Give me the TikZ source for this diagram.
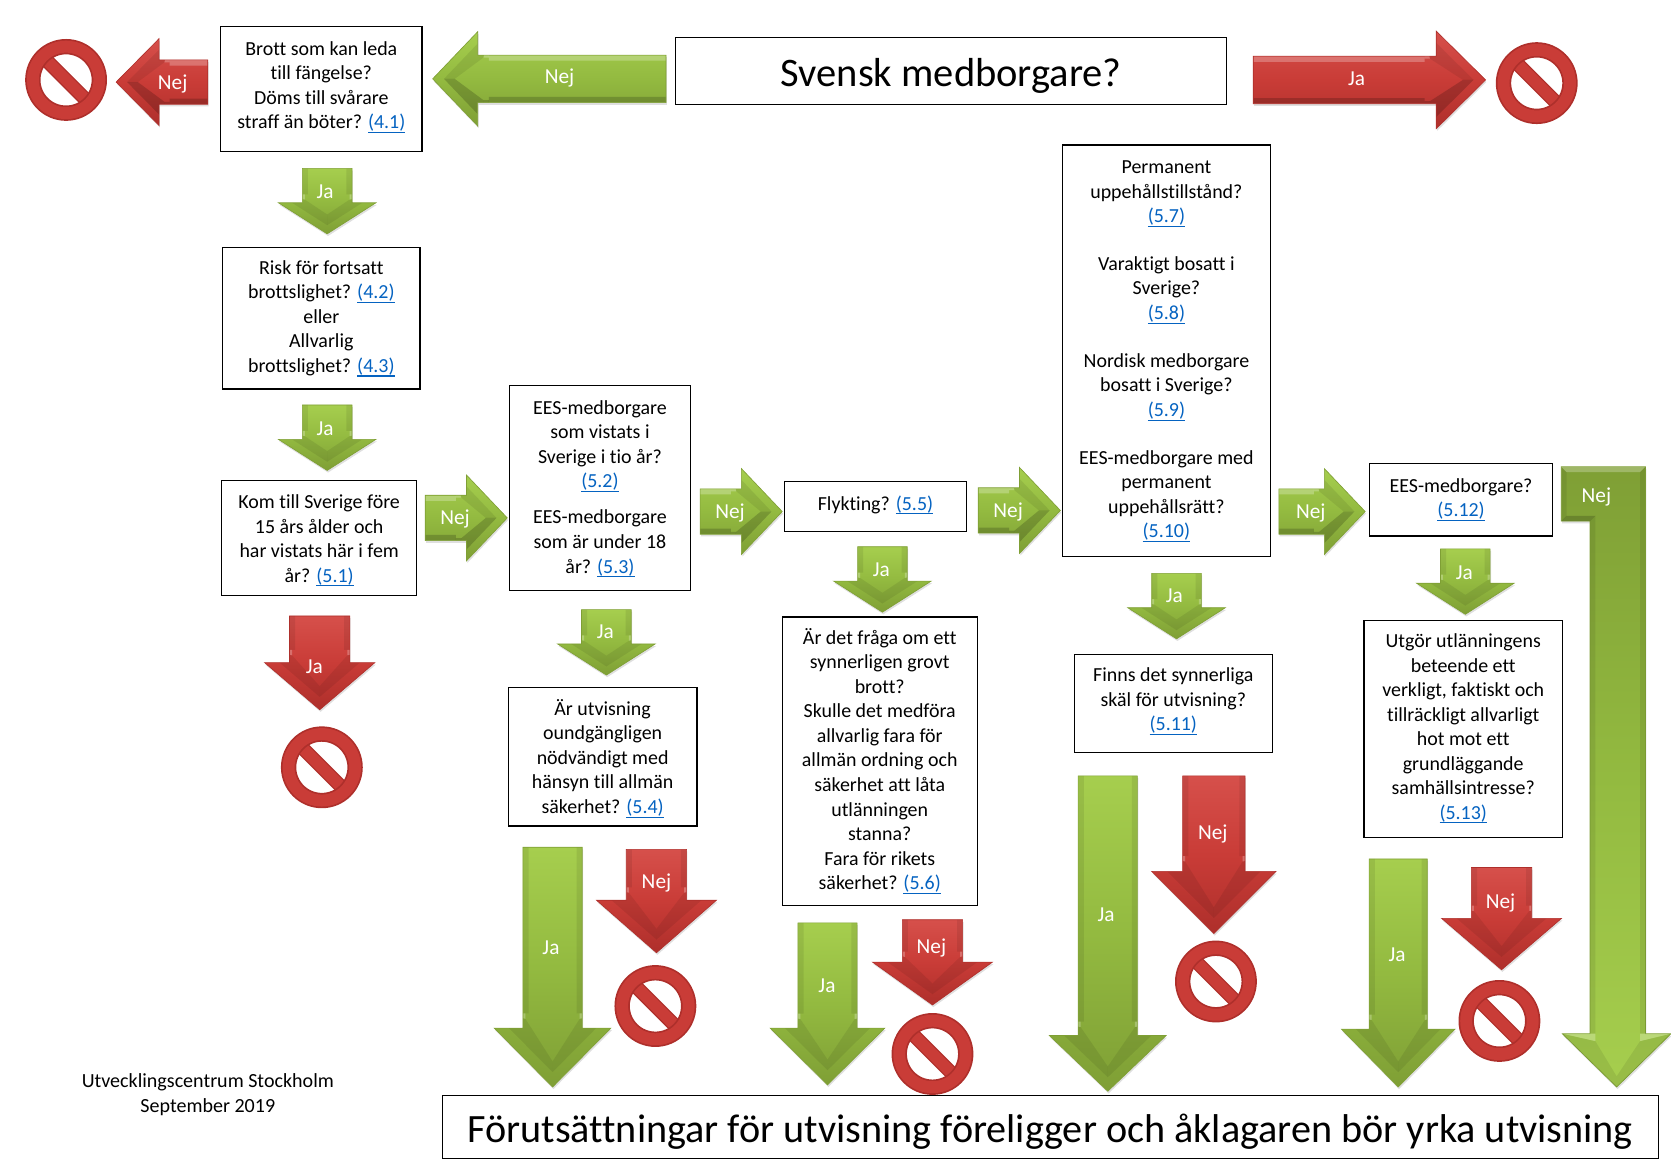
\documentclass[tikz,border=0pt]{standalone}
\usepackage{fontspec}
\setmainfont{Carlito}[Ligatures=NoCommon]
\usetikzlibrary{shapes.arrows, shadows}
\definecolor{greenlite}{HTML}{A6CE4E}
\definecolor{greenmid}{HTML}{93BA40}
\definecolor{greendark}{HTML}{7F9F35}
\definecolor{redlite}{HTML}{D6504B}
\definecolor{redmid}{HTML}{C93C37}
\definecolor{reddark}{HTML}{AE2F2B}
\definecolor{linkblue}{HTML}{0563C1}
% underline that sits close to the text
\newcommand{\lawlink}[1]{\textcolor{linkblue}{\setbox0\hbox{#1}\rlap{\rule[-2pt]{\wd0}{.5pt}}\rule[-3.6pt]{0pt}{3.6pt}\box0}}
\newcommand{\pushdown}[1]{\rule{0pt}{#1pt}}
\tikzstyle{question} = [rectangle, draw=black, line width=.6pt, align=center, fill=white, font=\fontsize{9.35}{11.5}\selectfont, inner sep=0pt, outer sep=0pt]
\tikzstyle{arrowtext} = [text=white, inner sep=0pt, yshift=-.5pt, font=\fontsize{10}{11.5}\selectfont]
\tikzstyle{lit} = [fill=white, opacity=.25]
\tikzstyle{dim} = [fill=black, opacity=.08]
\tikzstyle{deep} = [fill=black, opacity=.18]
\tikzstyle{greenbody} = [top color=greenlite, bottom color=greendark, middle color=greenmid, draw=greendark, line width=.3pt, drop shadow={shadow xshift=.4pt, shadow yshift=-1pt, opacity=.25}]
\tikzstyle{redbody} = [top color=redlite, bottom color=reddark, middle color=redmid, draw=reddark, line width=.3pt, drop shadow={shadow xshift=.4pt, shadow yshift=-1pt, opacity=.25}]
\tikzstyle{nosign} = [circle, minimum size=31.2pt, inner sep=0pt, outer sep=0pt, draw=reddark, line width=.8pt, double=redmid, double distance=5.6pt, path picture={\draw [draw=reddark, line width=.6pt, double=redmid, double distance=5.4pt] (path picture bounding box.north west) -- (path picture bounding box.south east);}]
% the seven bevel faces: tail, two sides, two wings, two head edges
\newcommand{\facesetup}[7]{
	\fill [arrowframe, #1] (-\aEnd,-\aShaft) -- (-\aEnd,\aShaft) -- (-\aEnd+5,\aShaft-5) -- (-\aEnd+5,-\aShaft+5) -- cycle;
	\fill [arrowframe, #2] (-\aEnd,-\aShaft) -- (\aBase,-\aShaft) -- (\aBase,-\aShaft+5) -- (-\aEnd+5,-\aShaft+5) -- cycle;
	\fill [arrowframe, #3] (-\aEnd,\aShaft) -- (\aBase,\aShaft) -- (\aBase,\aShaft-5) -- (-\aEnd+5,\aShaft-5) -- cycle;
	\fill [arrowframe, #4] (\aBase,-\aHead) -- (\aBase,-\aShaft+2) -- (\aBase+5,-\aShaft+2) -- cycle;
	\fill [arrowframe, #5] (\aBase,\aHead) -- (\aBase,\aShaft-2) -- (\aBase+5,\aShaft-2) -- cycle;
	\fill [arrowframe, #6] (\aBase,-\aHead) -- (\aEnd,0) -- (\aEnd-10,0) -- (\aBase+5,-\aShaft+2) -- cycle;
	\fill [arrowframe, #7] (\aBase,\aHead) -- (\aEnd,0) -- (\aEnd-10,0) -- (\aBase+5,\aShaft-2) -- cycle;
}
% inside the arrow the origin is its middle, so only the axes are set
\newcommand{\arrowfaces}[5]{
	\pgfmathsetmacro{\aEnd}{#2/2}
	\pgfmathsetmacro{\aBase}{#2/2-#5}
	\pgfmathsetmacro{\aShaft}{#3/2}
	\pgfmathsetmacro{\aHead}{#4/2}
	\ifnum#1=270 \tikzset{arrowframe/.style={x={(0pt,-.5pt)}, y={(-.5pt,0pt)}}} \facesetup{lit}{dim}{dim}{lit}{lit}{dim}{dim}\fi
	\ifnum#1=0 \tikzset{arrowframe/.style={x={(.5pt,0pt)}, y={(0pt,-.5pt)}}} \facesetup{dim}{lit}{deep}{lit}{deep}{dim}{deep}\fi
	\ifnum#1=180 \tikzset{arrowframe/.style={x={(-.5pt,0pt)}, y={(0pt,.5pt)}}} \facesetup{dim}{deep}{lit}{deep}{lit}{deep}{dim}\fi
}
\tikzset{
	blockarrow/.style n args={5}{single arrow, anchor=tail, outer sep=0pt, shape border rotate=#1, minimum height=#2*.5pt, inner sep=#3*.25pt, single arrow head extend=(#4-#3)*.25pt, single arrow tip angle={2*atan(#4/2/#5)}, path picture={\arrowfaces{#1}{#2}{#3}{#4}{#5}}},
	box/.style 2 args={question, minimum width=#1*.5pt, minimum height=#2*.5pt},
	shortja/.style={blockarrow={270}{60}{46}{91}{29}, greenbody},
	shortnej/.style={blockarrow={0}{77}{42}{80}{38}, greenbody}
}

\begin{document}
\begin{tikzpicture}[x=.5pt, y=-.5pt]
	\useasboundingbox (0,0) rectangle (1568,1100.7);

	% questions
	\node (start) [box={517}{63}, font=\fontsize{19}{22}\selectfont] at (892.5,66.5) {\pushdown{18}Svensk medborgare?};
	\node (q41) [box={189}{117}] at (301.5,83.5) {Brott som kan leda\\till fängelse?\\Döms till svårare\\straff än böter? \lawlink{(4.1)}};
	\node (q42) [box={185}{133}] at (301.5,298.5) {\pushdown{8.4}Risk för fortsatt\\brottslighet? \lawlink{(4.2)}\\eller\\Allvarlig\\brottslighet? \lawlink{(4.3)}};
	\node (q51) [box={183}{108}] at (299.5,505) {\pushdown{10.4}Kom till Sverige före\\15 års ålder och\\har vistats här i fem\\år? \lawlink{(5.1)}};
	\node (q52) [box={170}{192}] at (563,458) {\pushdown{8.8}EES-medborgare\\som vistats i\\Sverige i tio år?\\\lawlink{(5.2)}\\[5.5pt]EES-medborgare\\som är under 18\\år? \lawlink{(5.3)}};
	\node (q54) [box={177}{130}] at (565.5,710) {\pushdown{10.8}Är utvisning\\oundgängligen\\nödvändigt med\\hänsyn till allmän\\säkerhet? \lawlink{(5.4)}};
	\node (q55) [box={171}{47}] at (821.5,475.5) {Flykting? \lawlink{(5.5)}};
	\node (q56) [box={183}{271}] at (825.5,714.5) {\pushdown{8.8}Är det fråga om ett\\synnerligen grovt\\brott?\\Skulle det medföra\\allvarlig fara för\\allmän ordning och\\säkerhet att låta\\utlänningen\\stanna?\\Fara för rikets\\säkerhet? \lawlink{(5.6)}};
	\node (q57) [box={195}{386}] at (1094.5,329) {\pushdown{8.4}Permanent\\uppehållstillstånd?\\\lawlink{(5.7)}\\[11pt]Varaktigt bosatt i\\Sverige?\\\lawlink{(5.8)}\\[11pt]Nordisk medborgare\\bosatt i Sverige?\\\lawlink{(5.9)}\\[11pt]EES-medborgare med\\permanent\\uppehållsrätt?\\\lawlink{(5.10)}};
	\node (q511) [box={186}{92}] at (1101,660) {Finns det synnerliga\\skäl för utvisning?\\\lawlink{(5.11)}};
	\node (q512) [box={172}{68}] at (1371,469) {\pushdown{7.8}EES-medborgare?\\\lawlink{(5.12)}};
	\node (q513) [box={186}{204}] at (1373,684) {\pushdown{7.8}Utgör utlänningens\\beteende ett\\verkligt, faktiskt och\\tillräckligt allvarligt\\hot mot ett\\grundläggande\\samhällsintresse?\\\lawlink{(5.13)}};
	\node (result) [box={1141}{59}, font=\fontsize{18.85}{22}\selectfont] at (985.5,1057.5) {\pushdown{18}Förutsättningar för utvisning föreligger och åklagaren bör yrka utvisning};
	\node (credit) [align=center, inner sep=0pt, font=\fontsize{9.4}{12}\selectfont] at (195,1027) {Utvecklingscentrum Stockholm\\September 2019};

	% arrows across the top
	\node (nejleft) [blockarrow={180}{219}{44}{88}{42}, greenbody] at (625,74) {};
	\node (nejleftt) [arrowtext] at (525,72) {Nej};
	\node (nejstop) [blockarrow={180}{86}{41}{81}{40}, redbody] at (195,77) {};
	\node (nejstopt) [arrowtext] at (162,78) {Nej};
	\node (jastop) [blockarrow={0}{218}{44}{91}{46}, redbody] at (1176,75) {};
	\node (jastopt) [arrowtext] at (1273,73) {Ja};

	% short yes arrows
	\node (ja41) [shortja] at (307,158) {};
	\node (ja41t) [arrowtext] at (305,179) {Ja};
	\node (ja42) [shortja] at (307,380) {};
	\node (ja42t) [arrowtext] at (305,401) {Ja};
	\node (ja52) [shortja] at (569,572) {};
	\node (ja52t) [arrowtext] at (568,592) {Ja};
	\node (ja55) [shortja] at (828,513) {};
	\node (ja55t) [arrowtext] at (827,534) {Ja};
	\node (ja57) [shortja] at (1104,538) {};
	\node (ja57t) [arrowtext] at (1102,558) {Ja};
	\node (ja512) [shortja] at (1375,515) {};
	\node (ja512t) [arrowtext] at (1374,536) {Ja};

	% no arrows between the columns
	\node (nej51) [shortnej] at (399,486) {};
	\node (nej51t) [arrowtext] at (427,486) {Nej};
	\node (nej52) [shortnej] at (657,480) {};
	\node (nej52t) [arrowtext] at (685,480) {Nej};
	\node (nej55) [shortnej] at (918,479) {};
	\node (nej55t) [arrowtext] at (946,479) {Nej};
	\node (nej57) [blockarrow={0}{81}{42}{80}{38}, greenbody] at (1200,480) {};
	\node (nej57t) [arrowtext] at (1230,480) {Nej};

	% long yes arrows
	\node (ja54) [blockarrow={270}{225}{55}{109}{55}, greenbody] at (518.5,795) {};
	\node (ja54t) [arrowtext] at (517,888) {Ja};
	\node (ja56) [blockarrow={270}{152}{55}{107}{53}, greenbody] at (776.5,866) {};
	\node (ja56t) [arrowtext] at (776,924) {Ja};
	\node (ja511) [blockarrow={270}{296}{55}{109}{52}, greenbody] at (1039.5,728) {};
	\node (ja511t) [arrowtext] at (1038,857) {Ja};
	\node (ja513) [blockarrow={270}{214}{54}{106}{54}, greenbody] at (1312,806) {};
	\node (ja513t) [arrowtext] at (1311,895) {Ja};

	% red arrows that end in a stop sign
	\node (ja51) [blockarrow={270}{88}{56}{103}{44}, redbody] at (300,578) {};
	\node (ja51t) [arrowtext] at (295,625) {Ja};
	\node (nej54) [blockarrow={270}{97}{56}{112}{49}, redbody] at (616,797) {};
	\node (nej54t) [arrowtext] at (616,828) {Nej};
	\node (nej56) [blockarrow={270}{80}{56}{112}{40}, redbody] at (875,863) {};
	\node (nej56t) [arrowtext] at (874,889) {Nej};
	\node (nej511) [blockarrow={270}{148}{58}{116}{58}, redbody] at (1139,728) {};
	\node (nej511t) [arrowtext] at (1138,782) {Nej};
	\node (nej513) [blockarrow={270}{96}{56}{112}{48}, redbody] at (1409,814) {};
	\node (nej513t) [arrowtext] at (1408,846) {Nej};

	% arrow with the tab on the far right
	\path [top color=greendark, bottom color=greenlite, middle color=greenmid, draw=greendark, line width=.3pt, drop shadow={shadow xshift=.4pt, shadow yshift=-1pt, opacity=.25}] (1465,438) -- (1544,438) -- (1544,970) -- (1568,970) -- (1517,1020) -- (1466,970) -- (1492,970) -- (1492,489) -- (1465,489) -- cycle;
	\fill [lit] (1465,438) -- (1544,438) -- (1539,443) -- (1470,443) -- cycle;
	\fill [dim] (1465,438) -- (1470,443) -- (1470,484) -- (1465,489) -- cycle;
	\fill [dim] (1544,438) -- (1544,970) -- (1539,970) -- (1539,443) -- cycle;
	\fill [deep] (1465,489) -- (1492,489) -- (1497,484) -- (1470,484) -- cycle;
	\fill [dim] (1492,489) -- (1497,484) -- (1497,970) -- (1492,970) -- cycle;
	\fill [lit] (1466,970) -- (1497,970) -- (1497,977) -- cycle;
	\fill [lit] (1568,970) -- (1539,970) -- (1539,977) -- cycle;
	\fill [dim] (1466,970) -- (1517,1020) -- (1517,1010) -- (1497,977) -- cycle;
	\fill [dim] (1568,970) -- (1517,1020) -- (1517,1010) -- (1539,977) -- cycle;
	\node (nej512t) [arrowtext] at (1498,465) {Nej};

	% stop signs
	\node (stop1) [nosign] at (62,75) {};
	\node (stop2) [nosign] at (1442,78) {};
	\node (stop3) [nosign] at (302,720) {};
	\node (stop4) [nosign] at (615,944) {};
	\node (stop5) [nosign] at (875,989) {};
	\node (stop6) [nosign] at (1141,921) {};
	\node (stop7) [nosign] at (1407,958) {};
\end{tikzpicture}
\end{document}
